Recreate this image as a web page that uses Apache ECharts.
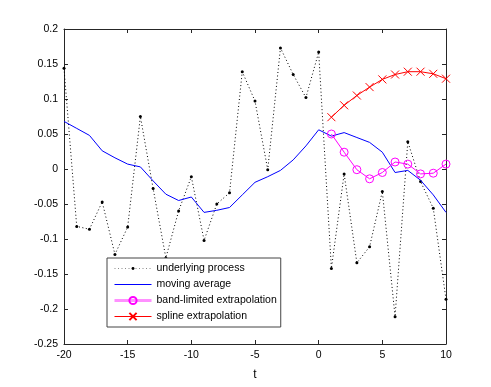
<!DOCTYPE html>
<html>
<head>
<meta charset="utf-8">
<script src="https://cdn.jsdelivr.net/npm/echarts@6/dist/echarts.min.js"></script>
<style>
  html, body { margin: 0; padding: 0; background: #fff; }
  #chart { width: 491px; height: 387px; }
</style>
</head>
<body>
<div id="chart"></div>
<script>
// time axis
const tAll = [-20, -19, -18, -17, -16, -15, -14, -13, -12, -11, -10, -9, -8, -7, -6, -5,
  -4, -3, -2, -1, 0, 1, 2, 3, 4, 5, 6, 7, 8, 9, 10];
const tFuture = [1, 2, 3, 4, 5, 6, 7, 8, 9, 10];

// underlying process (dotted with dots)
const processVals = [0.144, -0.082, -0.086, -0.047, -0.122, -0.083, 0.075, -0.028, -0.127, -0.060,
  -0.011, -0.102, -0.050, -0.034, 0.139, 0.097, -0.001, 0.173, 0.135, 0.102,
  0.167, -0.142, -0.007, -0.134, -0.111, -0.032, -0.211, 0.039, -0.018, -0.056, -0.186];

// moving average (blue)
const movingAvg = [0.068, 0.058, 0.048, 0.026, 0.016, 0.007, 0.003, -0.017, -0.036, -0.045,
  -0.040, -0.062, -0.059, -0.055, -0.037, -0.019, -0.011, -0.002, 0.013, 0.033,
  0.056, 0.047, 0.052, 0.045, 0.038, 0.024, -0.005, -0.002, -0.016, -0.037, -0.062];

// band-limited extrapolation (magenta)
const bandLimited = [0.050, 0.024, -0.001, -0.014, -0.005, 0.010, 0.007, -0.007, -0.006, 0.007];

// spline extrapolation (red)
const splineVals = [0.074, 0.091, 0.105, 0.117, 0.128, 0.135, 0.139, 0.139, 0.136, 0.129];

function pairs(xs, ys) { return xs.map((x, i) => [x, ys[i]]); }

const axisColor = '#262626';
const font = 'Liberation Sans, Arial, sans-serif';
const crossIcon = 'path://M0,0L10,10M10,0L0,10';
const ringIcon = 'path://M10,5A5,5 0 1,1 0,5A5,5 0 1,1 10,5z';
// small dot centred in an empty 10x10 box (keeps the legend dot small too)
const dotIcon = 'path://M0,0M10,10M3,5a2,2 0 1,0 4,0a2,2 0 1,0 -4,0z';

const chart = echarts.init(document.getElementById('chart'));

const option = {
  animation: false,
  backgroundColor: '#fff',
  grid: { left: 64, right: 45, top: 29, bottom: 43 },
  legend: {
    orient: 'vertical',
    left: 107,
    top: 258,
    itemWidth: 37,
    itemHeight: 9,
    itemGap: 5,
    padding: [5, 4, 5, 6],
    borderColor: '#444',
    borderWidth: 1,
    backgroundColor: '#fff',
    textStyle: { fontFamily: font, fontSize: 10.5, color: '#000' },
    data: [
      { name: 'underlying process', lineStyle: { width: 1, color: '#888' } },
      { name: 'moving average', itemStyle: { opacity: 0 }, lineStyle: { width: 1, color: '#0000ff' } },
      { name: 'band-limited extrapolation', lineStyle: { width: 3, color: '#ff90ff' } },
      { name: 'spline extrapolation', lineStyle: { width: 1, color: '#ff0000' } }
    ]
  },
  xAxis: [{
    type: 'value', min: -20, max: 10, interval: 5,
    name: 't', nameLocation: 'middle', nameGap: 25,
    nameTextStyle: { fontFamily: font, fontSize: 12, color: '#000' },
    axisLine: { onZero: false, lineStyle: { color: axisColor } },
    axisTick: { inside: true, length: 4, lineStyle: { color: axisColor } },
    axisLabel: { fontFamily: font, fontSize: 10.5, color: '#000', margin: 6 },
    splitLine: { show: false }
  }, {
    type: 'value', min: -20, max: 10, interval: 5, position: 'top',
    axisLine: { onZero: false, lineStyle: { color: axisColor } },
    axisTick: { inside: true, length: 4, lineStyle: { color: axisColor } },
    axisLabel: { show: false },
    splitLine: { show: false }
  }],
  yAxis: [{
    type: 'value', min: -0.25, max: 0.2, interval: 0.05,
    axisLine: { show: true, onZero: false, lineStyle: { color: axisColor } },
    axisTick: { show: true, inside: true, length: 4, lineStyle: { color: axisColor } },
    axisLabel: { fontFamily: font, fontSize: 10.5, color: '#000', margin: 6,
      formatter: v => String(Math.round(v * 100) / 100) },
    splitLine: { show: false }
  }, {
    type: 'value', min: -0.25, max: 0.2, interval: 0.05, position: 'right',
    axisLine: { show: true, onZero: false, lineStyle: { color: axisColor } },
    axisTick: { show: true, inside: true, length: 4, lineStyle: { color: axisColor } },
    axisLabel: { show: false },
    splitLine: { show: false }
  }],
  series: [
    {
      name: 'underlying process', type: 'line',
      data: pairs(tAll, processVals),
      symbol: dotIcon, symbolSize: 7.5, showSymbol: true,
      lineStyle: { color: '#000', width: 1, type: [1, 2.5] },
      itemStyle: { color: '#000' },
      z: 2
    },
    {
      name: 'moving average', type: 'line',
      data: pairs(tAll, movingAvg),
      symbol: 'none',
      lineStyle: { color: '#0000ff', width: 1 },
      itemStyle: { color: '#0000ff' },
      z: 3
    },
    {
      name: 'band-limited extrapolation', type: 'line',
      data: pairs(tFuture, bandLimited),
      symbol: ringIcon, symbolSize: 8,
      lineStyle: { color: '#ff00ff', width: 1 },
      itemStyle: { color: 'transparent', borderColor: '#ff00ff', borderWidth: 1 },
      z: 4
    },
    {
      name: 'spline extrapolation', type: 'line',
      data: pairs(tFuture, splineVals),
      symbol: crossIcon, symbolSize: 8,
      lineStyle: { color: '#ff0000', width: 1 },
      itemStyle: { color: '#ff0000', borderColor: '#ff0000', borderWidth: 1 },
      z: 4
    }
  ]
};

chart.setOption(option);
</script>
</body>
</html>
